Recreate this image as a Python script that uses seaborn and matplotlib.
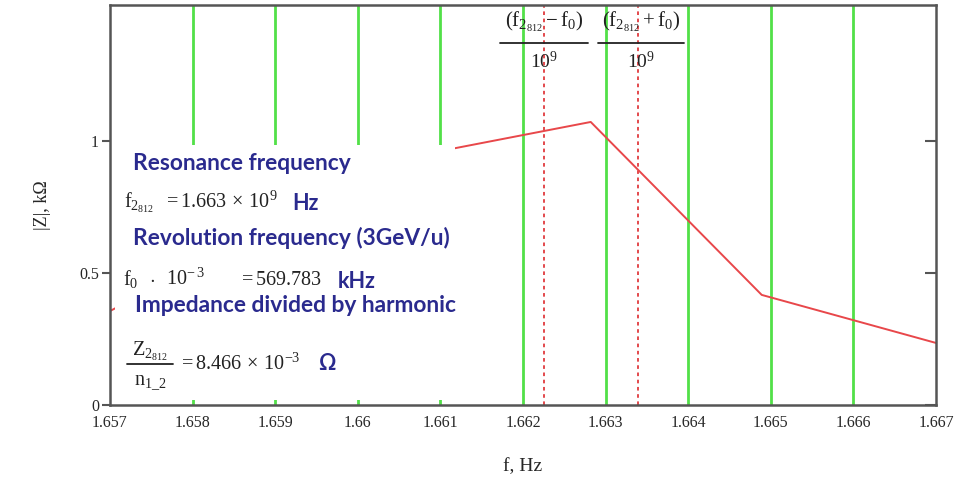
import matplotlib
matplotlib.use("Agg")
import matplotlib.pyplot as plt
import seaborn as sns
import pandas as pd
from matplotlib.patches import Rectangle
from matplotlib.lines import Line2D

# ---- data ----
freq = [1.6570, 1.65863, 1.66072, 1.66282, 1.66489, 1.6670]
impedance = [0.356, 0.62, 0.945, 1.072, 0.417, 0.235]
harmonics = [1.658, 1.659, 1.660, 1.661, 1.662, 1.663, 1.664, 1.665, 1.666]
sidebands = [1.66225, 1.66339]
xticks = [1.657, 1.658, 1.659, 1.660, 1.661, 1.662, 1.663, 1.664, 1.665, 1.666, 1.667]
xtick_labels = ["1.657", "1.658", "1.659", "1.66", "1.661", "1.662", "1.663",
                "1.664", "1.665", "1.666", "1.667"]
yticks = [0, 0.5, 1]
ytick_labels = ["0", "0.5", "1"]

sns.set_theme(style="white")
plt.rcParams["font.family"] = ["Liberation Serif", "DejaVu Serif"]
plt.rcParams["mathtext.fontset"] = "custom"
plt.rcParams["mathtext.rm"] = "Liberation Serif"
plt.rcParams["mathtext.it"] = "Liberation Serif"
plt.rcParams["mathtext.bf"] = "Liberation Serif:bold"

W, H = 965, 482
fig = plt.figure(figsize=(W / 100, H / 100), dpi=100)
ax = fig.add_axes([110 / W, 1 - 405 / H, (936 - 110) / W, 400 / H])
YMAX = 1.515
ax.set_xlim(1.657, 1.667)
ax.set_ylim(0, YMAX)

GREEN = "#52E048"
RED = "#E8474A"
BLUE = "#2A2A8E"
SPINE = "#555555"
INK = "#222222"

ax.vlines(harmonics, 0, YMAX, color=GREEN, lw=2.0, zorder=2)
ax.vlines(sidebands, 0, YMAX, color="#E03A3E", lw=1.3, linestyles=(0, (2, 2)), zorder=2)
df = pd.DataFrame({"f": freq, "Z": impedance})
sns.lineplot(data=df, x="f", y="Z", color=RED, lw=1.4, ax=ax, zorder=3)

# white text panel covering part of the plot
ax.add_patch(Rectangle((1.65706, 0.019), 1.66118 - 1.65706, 0.985 - 0.019,
                       facecolor="white", edgecolor="none", zorder=4))

ax.set_xticks(xticks)
ax.set_xticklabels(xtick_labels, fontsize=11.5)
ax.set_yticks(yticks)
ax.set_yticklabels(ytick_labels, fontsize=11.5)
ax.tick_params(axis="y", direction="out", length=6, width=1.5, color=SPINE, pad=2)
ax.tick_params(axis="x", direction="in", length=3, width=1.0, color=SPINE, pad=7)
for s in ax.spines.values():
    s.set_color(SPINE)
    s.set_linewidth(1.8)
    s.set_zorder(6)

ax2 = ax.twinx()
ax2.set_ylim(0, YMAX)
ax2.set_yticks(yticks)
ax2.tick_params(axis="y", direction="in", length=8, width=1.5, color=SPINE, labelright=False)
ax2.grid(False)
for s in ax2.spines.values():
    s.set_visible(False)

ax.set_xlabel("f, Hz", fontsize=14, labelpad=20)
ax.set_ylabel("|Z|, kΩ", fontsize=13, labelpad=20)
ax.grid(False)


def ft(x, y, s, **kw):
    fig.text(x / W, 1 - y / H, s, **kw)


def bar(x0, x1, y, lw=1.3):
    fig.add_artist(Line2D([x0 / W, x1 / W], [1 - y / H, 1 - y / H],
                          color=INK, lw=lw, transform=fig.transFigure, zorder=10))


blue_kw = dict(color=BLUE, fontsize=16.4, fontweight="bold", family=["Lato", "DejaVu Sans"],
               va="center", ha="left", zorder=10)
unit_kw = {**blue_kw, "fontsize": 15.5}
math_kw = dict(color=INK, fontsize=14.5, va="baseline", ha="left", zorder=10)
cmath_kw = dict(color=INK, fontsize=14.5, va="center", ha="center", zorder=10)

ft(133, 163, "Resonance frequency", **blue_kw)
ft(124, 208, r"$f_{2_{812}}$", **math_kw)
ft(163, 208, r"$= 1.663\,\times\,10^{9}$", **math_kw)
ft(292, 204, "Hz", **unit_kw)
ft(133, 238, "Revolution frequency (3GeV/u)", **blue_kw)
ft(123, 285, r"$f_0$", **math_kw)
ft(152, 280, r"$\cdot$", **cmath_kw)
ft(166, 285, r"$10^{-\,3}$", **math_kw)
ft(238, 285, r"$= 569.783$", **math_kw)
ft(338, 281, "kHz", **unit_kw)
ft(135, 306, "Impedance divided by harmonic", **blue_kw)
ft(150, 351, r"$Z_{2_{812}}$", **cmath_kw)
bar(127, 173, 364)
ft(150, 383, r"$n_{1\_2}$", **cmath_kw)
ft(178, 370, r"$= 8.466\,\times\,10^{-3}$", **math_kw)
ft(318, 364, "Ω", **unit_kw)

# sideband annotations at the top
ft(544, 22, r"$\left(f_{2_{812}} - f_0\right)$", **{**cmath_kw, "fontsize": 15})
bar(500, 588, 43)
ft(544, 61, r"$10^{9}$", **{**cmath_kw, "fontsize": 14})
ft(641, 22, r"$\left(f_{2_{812}} + f_0\right)$", **{**cmath_kw, "fontsize": 15})
bar(598, 684, 43)
ft(641, 61, r"$10^{9}$", **{**cmath_kw, "fontsize": 14})

fig.savefig("out.png", dpi=100)
